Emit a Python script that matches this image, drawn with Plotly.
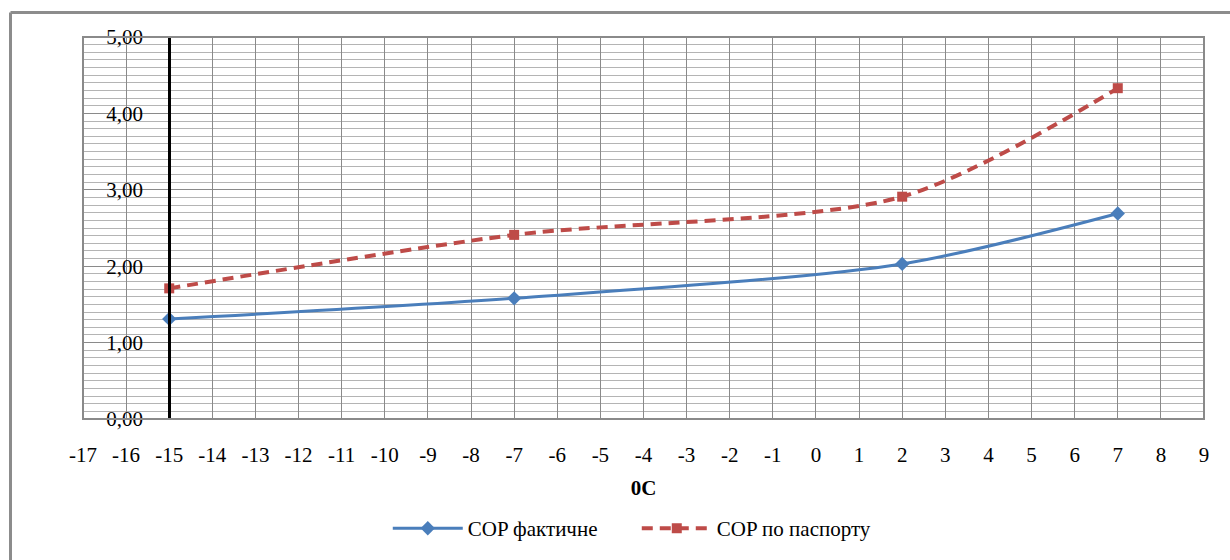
import plotly.graph_objects as go

# Outdoor temperature, °C
temps = [-15, -7, 2, 7]
# Coefficient of performance: measured and rated (passport)
cop_actual = [1.31, 1.58, 2.03, 2.69]
cop_passport = [1.71, 2.41, 2.91, 4.33]

x_ticks = list(range(-17, 10))
y_ticks = [0, 1, 2, 3, 4, 5]
y_tick_text = ["0,00", "1,00", "2,00", "3,00", "4,00", "5,00"]

FONT = "Liberation Serif"
BLUE = "#4a7ebb"
RED = "#be4b48"

fig = go.Figure()
fig.add_trace(go.Scatter(
    x=temps, y=cop_actual, name="COP фактичне",
    mode="lines+markers", line=dict(color=BLUE, width=3, shape="spline", smoothing=0.8),
    marker=dict(symbol="diamond", size=11, color=BLUE),
))
fig.add_trace(go.Scatter(
    x=temps, y=cop_passport, name="COP по паспорту",
    mode="lines+markers",
    line=dict(color=RED, width=4, dash="11px,7px", shape="spline", smoothing=0.8),
    marker=dict(symbol="square", size=10, color=RED),
))

x0, x1 = -17, 9
pos_frac = (-15 - x0) / (x1 - x0)

fig.update_layout(
    width=1230, height=560,
    margin=dict(l=83, r=26, t=37, b=140),
    paper_bgcolor="white", plot_bgcolor="white",
    font=dict(family=FONT, size=21, color="black"),
    showlegend=True,
    legend=dict(orientation="h", x=0.494, xanchor="center", y=-0.23, yanchor="top",
                font=dict(family=FONT, size=21), itemwidth=70, entrywidth=164,
                tracegroupgap=0),
    xaxis=dict(
        range=[x0, x1], tickmode="array", tickvals=x_ticks,
        ticktext=[str(v) for v in x_ticks],
        showgrid=True, gridcolor="#8a8a8a", gridwidth=1,
        zeroline=False, showline=False, ticks="",
        ticklabelstandoff=21,
        title=dict(text="<b>0C</b>", font=dict(family=FONT, size=21), standoff=14),
    ),
    yaxis=dict(
        range=[0, 5], tickmode="array", tickvals=y_ticks, ticktext=y_tick_text,
        anchor="free", position=pos_frac,
        showgrid=True, gridcolor="#8a8a8a", gridwidth=1,
        minor=dict(dtick=0.1, showgrid=True, gridcolor="#b4b4b4", gridwidth=1, ticks=""),
        zeroline=False, showline=True, linecolor="black", linewidth=3,
        ticks="", ticklabelstandoff=21,
    ),
    shapes=[
        # plot area border
        dict(type="rect", xref="paper", yref="paper", x0=0, x1=1, y0=0, y1=1,
             line=dict(color="#8a8a8a", width=2), layer="above"),
        # outer chart frame (top and left edges)
        dict(type="line", xref="paper", yref="paper",
             x0=(10.5 - 83) / 1121, x1=(1240 - 83) / 1121,
             y0=1 + (37 - 12.5) / 383, y1=1 + (37 - 12.5) / 383,
             line=dict(color="#8c8c8c", width=3)),
        dict(type="line", xref="paper", yref="paper",
             x0=(10.5 - 83) / 1121, x1=(10.5 - 83) / 1121,
             y0=1 + (37 - 12.5) / 383, y1=-(140 + 10) / 383,
             line=dict(color="#8c8c8c", width=3)),
    ],
)

fig.write_html("out.html")
